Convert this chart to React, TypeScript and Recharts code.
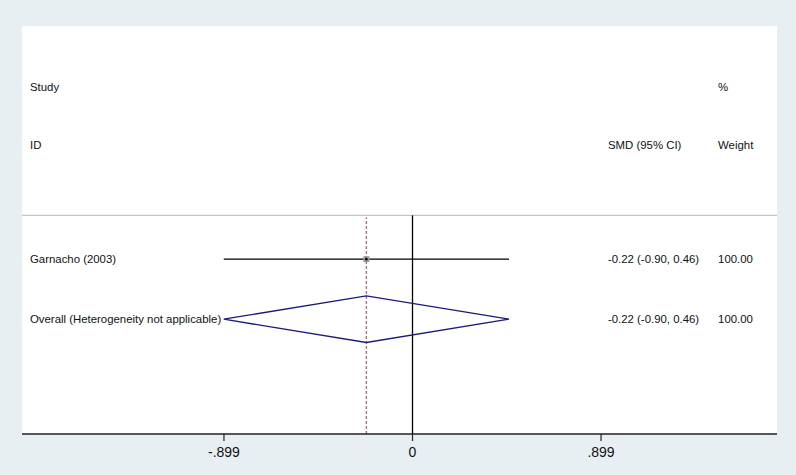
import {
  CartesianGrid,
  ComposedChart,
  ReferenceLine,
  Scatter,
  XAxis,
  YAxis,
} from 'recharts'

// study rows (y = row position, top rows are larger)
const studies = ['Garnacho (2003)']
const smd = [-0.22]
const ciLow = [-0.9]
const ciHigh = [0.46]
const weights = ['100.00']

const overallLabel = 'Overall (Heterogeneity not applicable)'
const overallSmd = -0.22
const overallLow = -0.9
const overallHigh = 0.46
const OVERALL_Y = 0.97

const xTicks = [-0.899, 0, 0.899]
const xTickLabels = ['-.899', '0', '.899']

// column anchors in data units of the x axis
const X_DOMAIN: [number, number] = [-1.862, 1.738]
const COL_STUDY = -1.824
const COL_SMD = 0.932
const COL_WEIGHT = 1.457

const FONT = '"Liberation Sans", Arial, Helvetica, sans-serif'
const NAVY = '#1c1c78'

const fmtCi = (m: number, l: number, h: number) =>
  `${m.toFixed(2)} (${l.toFixed(2)}, ${h.toFixed(2)})`

const textRows = [
  { x: COL_STUDY, y: 4.95, label: 'Study' },
  { x: COL_WEIGHT, y: 4.95, label: '%' },
  { x: COL_STUDY, y: 3.96, label: 'ID' },
  { x: COL_SMD, y: 3.96, label: 'SMD (95% CI)' },
  { x: COL_WEIGHT, y: 3.96, label: 'Weight' },
  ...studies.flatMap((s, i) => [
    { x: COL_STUDY, y: 2 - i, label: s },
    { x: COL_SMD, y: 2 - i, label: fmtCi(smd[i], ciLow[i], ciHigh[i]) },
    { x: COL_WEIGHT, y: 2 - i, label: weights[i] },
  ]),
  { x: COL_STUDY, y: OVERALL_Y, label: overallLabel },
  { x: COL_SMD, y: OVERALL_Y, label: fmtCi(overallSmd, overallLow, overallHigh) },
  { x: COL_WEIGHT, y: OVERALL_Y, label: '100.00' },
]

const points = studies.map((_, i) => ({ x: smd[i], y: 2 - i }))

const diamond = [
  { x: overallLow, y: OVERALL_Y },
  { x: overallSmd, y: OVERALL_Y + 0.4 },
  { x: overallHigh, y: OVERALL_Y },
  { x: overallSmd, y: OVERALL_Y - 0.4 },
  { x: overallLow, y: OVERALL_Y },
]

const TextShape = (props: any) => {
  const { cx, cy, payload } = props
  return (
    <text
      x={cx}
      y={cy}
      dy="0.35em"
      fontSize={11.4}
      fontFamily={FONT}
      fill="#111"
      textAnchor="start"
    >
      {payload.label}
    </text>
  )
}

const BoxShape = (props: any) => {
  const { cx, cy } = props
  return (
    <g>
      <rect x={cx - 3} y={cy - 3} width={6} height={6} fill="#9a9a9a" />
      <circle cx={cx} cy={cy} r={1.3} fill="#000" />
    </g>
  )
}

export default function App() {
  return (
    <div
      style={{
        position: 'absolute',
        left: 0,
        top: 0,
        width: 796,
        height: 475,
        background: '#e8eff2',
      }}
    >
      <ComposedChart
        width={796}
        height={475}
        margin={{ top: 26, right: 19, left: 22, bottom: 0 }}
      >
        <CartesianGrid horizontal={false} vertical={false} fill="#ffffff" />
        <XAxis
          type="number"
          dataKey="x"
          domain={X_DOMAIN}
          ticks={xTicks}
          tickFormatter={(v: number) => xTickLabels[xTicks.indexOf(v)] ?? ''}
          allowDataOverflow
          height={41}
          axisLine={{ stroke: '#222', strokeWidth: 1.3 }}
          tickLine={{ stroke: '#222', strokeWidth: 1.2 }}
          tickSize={7}
          tickMargin={6}
          tick={{ fontSize: 14, fill: '#111', fontFamily: FONT }}
        />
        <YAxis type="number" dataKey="y" domain={[-1, 6]} hide allowDataOverflow />
        <ReferenceLine y={2.75} stroke="#c4c4c4" strokeWidth={1.2} />
        <ReferenceLine
          segment={[
            { x: 0, y: -1 },
            { x: 0, y: 2.75 },
          ]}
          stroke="#000"
          strokeWidth={1.3}
        />
        <ReferenceLine
          segment={[
            { x: overallSmd, y: -1 },
            { x: overallSmd, y: 2.72 },
          ]}
          stroke="#ad7480"
          strokeWidth={1.4}
          strokeDasharray="3 2"
        />
        {studies.map((s, i) => (
          <ReferenceLine
            key={s}
            segment={[
              { x: ciLow[i], y: 2 - i },
              { x: ciHigh[i], y: 2 - i },
            ]}
            stroke="#000"
            strokeWidth={1.4}
          />
        ))}
        <Scatter
          data={diamond}
          line={{ stroke: NAVY, strokeWidth: 1.4 }}
          shape={() => <g />}
          isAnimationActive={false}
        />
        <Scatter data={points} shape={BoxShape} isAnimationActive={false} />
        <Scatter data={textRows} shape={TextShape} isAnimationActive={false} />
      </ComposedChart>
    </div>
  )
}
